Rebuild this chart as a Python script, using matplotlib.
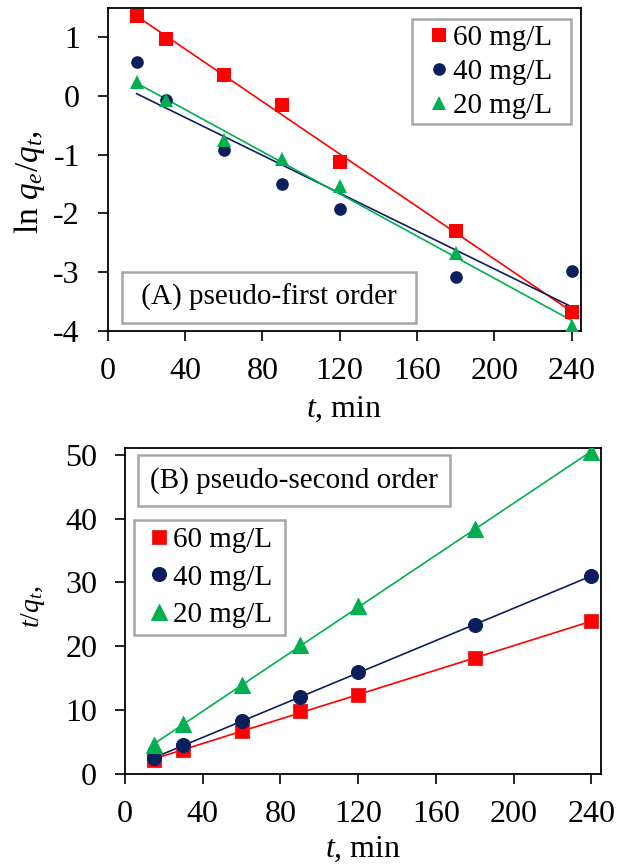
import numpy as np
import matplotlib
matplotlib.use('Agg')
import matplotlib.pyplot as plt

plt.rcParams['font.family'] = ['Liberation Serif', 'DejaVu Serif']
plt.rcParams['mathtext.fontset'] = 'custom'
plt.rcParams['mathtext.rm'] = 'Liberation Serif'
plt.rcParams['mathtext.it'] = 'Liberation Serif:italic'
plt.rcParams['axes.unicode_minus'] = False

# time points, min
t = [15, 30, 60, 90, 120, 180, 240]

# (A) pseudo-first order, ln(qe/qt)
pfo_60 = [1.36, 0.96, 0.36, -0.15, -1.12, -2.30, -3.68]
pfo_40 = [0.58, -0.07, -0.92, -1.50, -1.92, -3.08, -2.98]
pfo_20 = [0.24, -0.07, -0.75, -1.08, -1.53, -2.67, -3.92]

# (B) pseudo-second order, t/qt
pso_60 = [2.2, 3.8, 6.8, 9.8, 12.4, 18.1, 23.9]
pso_40 = [2.5, 4.5, 8.3, 12.0, 15.9, 23.4, 31.0]
pso_20 = [4.5, 7.8, 13.9, 20.2, 26.3, 38.3, 50.4]

labels = ['60 mg/L', '40 mg/L', '20 mg/L']
colors = ['#FF0000', '#0A1F5C', '#00B050']
edges = ['#E03030', '#0A1F5C', '#00B050']
markers = ['s', 'o', '^']
msizes_a = [10, 9.1, 10.6]
msizes_b = [10, 10, 11.3]

fig = plt.figure(figsize=(6.17, 8.65), dpi=100)
ax1 = fig.add_axes([0.1745, 0.6173, 0.7676, 0.3738])
ax2 = fig.add_axes([0.2026, 0.1052, 0.7715, 0.3765])

tt = np.array(t)

def draw(ax, series, msizes, edge_w, pad):
    for y, lab, c, ec, m, ms in zip(series, labels, colors, edges, markers, msizes):
        # linear trend line through each series
        k, b = np.polyfit(tt, y, 1)
        ax.plot([tt[0], tt[-1]], [k * tt[0] + b, k * tt[-1] + b], color=c, lw=1.2, zorder=2)
        ax.plot(tt, y, linestyle='none', marker=m, color=c, markersize=ms,
                markeredgecolor=ec, markeredgewidth=edge_w, label=lab + pad, zorder=3)

draw(ax1, [pfo_60, pfo_40, pfo_20], msizes_a, 0, '  ')
draw(ax2, [pso_60, pso_40, pso_20], msizes_b, 0.8, ' ')

for ax in (ax1, ax2):
    ax.set_xlim(0, 245)
    ax.set_xticks(range(0, 241, 40))
    ax.tick_params(direction='out', length=7, width=1.2, labelsize=23)
    ax.tick_params(axis='x', pad=12)
    ax.tick_params(axis='y', pad=13)
    for s in ax.spines.values():
        s.set_linewidth(1.3)

ax1.set_xlabel(r'$t$, min', fontsize=23, labelpad=6)
ax2.set_xlabel(r'$t$, min', fontsize=23, labelpad=4)

ax1.set_ylim(-4, 1.5)
ax1.set_yticks(range(-4, 2))
ax1.set_ylabel(r'ln $q_e/q_{t},$', fontsize=24)
ax1.yaxis.set_label_coords(-0.128, 0.461)

ax2.set_ylim(0, 51)
ax2.set_yticks(range(0, 51, 10))
ax2.set_ylabel(r'$t/q_{t},$', fontsize=20)
ax2.yaxis.set_label_coords(-0.164, 0.513)

box = dict(boxstyle='square,pad=0.42', facecolor='white', edgecolor='#A6A6A6', linewidth=1.8)
ax1.text(0.3406, 0.1036, ' (A) pseudo-first order ', transform=ax1.transAxes,
         fontsize=21, va='center', ha='center', bbox=box)
ax2.text(0.3555, 0.901, '(B) pseudo-second order', transform=ax2.transAxes,
         fontsize=21, va='center', ha='center', bbox=box)

leg_kw = dict(fontsize=21, fancybox=False, framealpha=1, borderaxespad=0)
l1 = ax1.legend(loc='upper right', bbox_to_anchor=(0.9776, 0.964), labelspacing=0.26,
                borderpad=0.17, handlelength=1.48, handletextpad=-0.24, **leg_kw)
l2 = ax2.legend(loc='upper left', bbox_to_anchor=(0.019, 0.78), labelspacing=0.38,
                borderpad=0.23, handlelength=1.26, handletextpad=-0.15, **leg_kw)
for lg in (l1, l2):
    lg.get_frame().set_edgecolor('#A6A6A6')
    lg.get_frame().set_linewidth(1.8)

fig.savefig('out.png', dpi=100)
